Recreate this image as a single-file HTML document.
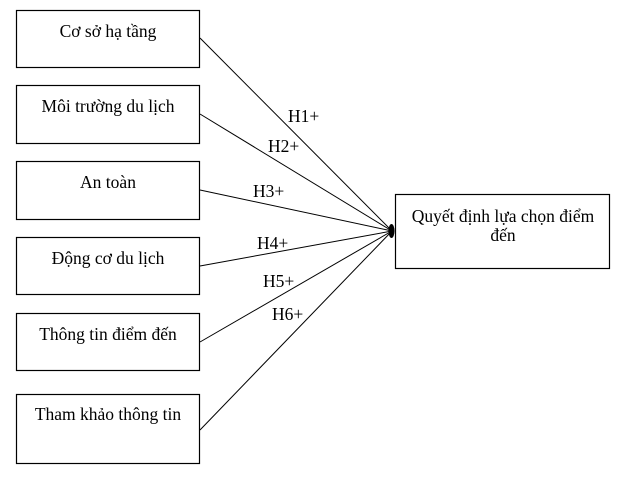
<!DOCTYPE html>
<html>
<head>
<meta charset="utf-8">
<style>
html,body{margin:0;padding:0;background:#fff;}
svg{display:block;}
text{font-family:"Liberation Serif","Noto Serif CJK SC",serif;font-size:17.5px;fill:#000;}
</style>
</head>
<body>
<svg width="627" height="478" viewBox="0 0 627 478" xmlns="http://www.w3.org/2000/svg">
<g fill="none" stroke="#000" stroke-width="1.2">
<rect x="16.5" y="10.5" width="183" height="57"/>
<rect x="16.5" y="85.5" width="183" height="58"/>
<rect x="16.5" y="161.5" width="183" height="58"/>
<rect x="16.5" y="237.5" width="183" height="57"/>
<rect x="16.5" y="313.5" width="183" height="57"/>
<rect x="16.5" y="394.5" width="183" height="69"/>
<rect x="395.5" y="194.5" width="214" height="74"/>
</g>
<g stroke="#000" stroke-width="1">
<line x1="200" y1="38" x2="392" y2="231"/>
<line x1="200" y1="114" x2="392" y2="231"/>
<line x1="200" y1="190" x2="392" y2="231"/>
<line x1="200" y1="266" x2="392" y2="231"/>
<line x1="200" y1="342" x2="392" y2="231"/>
<line x1="200" y1="430" x2="392" y2="231"/>
</g>
<ellipse cx="391.5" cy="231" rx="3" ry="7" fill="#000"/>
<g text-anchor="middle">
<text x="108" y="37">Cơ sở hạ tầng</text>
<text x="108" y="112">Môi trường du lịch</text>
<text x="108" y="188">An toàn</text>
<text x="108" y="264">Động cơ du lịch</text>
<text x="108" y="340">Thông tin điểm đến</text>
<text x="108" y="420">Tham khảo thông tin</text>
<text x="503" y="222">Quyết định lựa chọn điểm</text>
<text x="503" y="241">đến</text>
</g>
<text x="288" y="122">H1+</text>
<text x="268" y="152">H2+</text>
<text x="253" y="197">H3+</text>
<text x="257" y="249">H4+</text>
<text x="263" y="287">H5+</text>
<text x="272" y="320">H6+</text>
</svg>
</body>
</html>
